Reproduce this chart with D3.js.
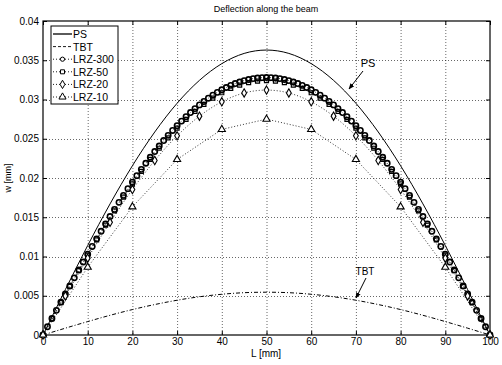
<!DOCTYPE html>
<html><head><meta charset="utf-8">
<script src="https://cdn.jsdelivr.net/npm/d3@7"></script>
<style>body{margin:0;background:#fff}svg{display:block}text{font-family:"Liberation Sans",Arial,sans-serif;fill:#000}</style>
</head><body><svg id="c" width="502" height="365"></svg>
<script>
const titleText = "Deflection along the beam";
const xLabel = "L [mm]";
const yLabel = "w [mm]";
const xTicks = [0,10,20,30,40,50,60,70,80,90,100];
const xTickLabels = ["0","10","20","30","40","50","60","70","80","90","100"];
const yTicks = [0,0.005,0.01,0.015,0.02,0.025,0.03,0.035,0.04];
const yTickLabels = ["0","0.005","0.01","0.015","0.02","0.025","0.03","0.035","0.04"];
const seriesNames = ["PS","TBT","LRZ-300","LRZ-50","LRZ-20","LRZ-10"];

const xStep5 = [0,5,10,15,20,25,30,35,40,45,50,55,60,65,70,75,80,85,90,95,100];
const wPS = [0,0.00578,0.01140,0.01670,0.02156,0.02586,0.02952,0.03244,0.03457,0.03587,0.03630,0.03587,0.03457,0.03244,0.02952,0.02586,0.02156,0.01670,0.01140,0.00578,0];
const wTBT = [0,0.00087,0.00171,0.00251,0.00324,0.00388,0.00443,0.00487,0.00519,0.00539,0.00545,0.00539,0.00519,0.00487,0.00443,0.00388,0.00324,0.00251,0.00171,0.00087,0];
const xLRZ300 = d3.range(0,101,1);
const wLRZ300 = [0,0.00105,0.00210,0.00314,0.00419,0.00522,0.00625,0.00728,0.00829,0.00930,0.01030,0.01128,0.01225,0.01321,0.01416,0.01509,0.01600,0.01690,0.01778,0.01864,0.01948,0.02030,0.02110,0.02188,0.02264,0.02337,0.02408,0.02477,0.02543,0.02606,0.02667,0.02725,0.02781,0.02834,0.02884,0.02931,0.02975,0.03017,0.03055,0.03091,0.03124,0.03153,0.03180,0.03203,0.03223,0.03241,0.03255,0.03266,0.03274,0.03278,0.03280,0.03278,0.03274,0.03266,0.03255,0.03241,0.03223,0.03203,0.03180,0.03153,0.03124,0.03091,0.03055,0.03017,0.02975,0.02931,0.02884,0.02834,0.02781,0.02725,0.02667,0.02606,0.02543,0.02477,0.02408,0.02337,0.02264,0.02188,0.02110,0.02030,0.01948,0.01864,0.01778,0.01690,0.01600,0.01509,0.01416,0.01321,0.01225,0.01128,0.01030,0.00930,0.00829,0.00728,0.00625,0.00522,0.00419,0.00314,0.00210,0.00105,0];
const xLRZ50 = d3.range(0,101,2);
const wLRZ50 = [0,0.00207,0.00413,0.00618,0.00819,0.01017,0.01211,0.01399,0.01581,0.01756,0.01924,0.02084,0.02236,0.02379,0.02512,0.02635,0.02747,0.02849,0.02939,0.03018,0.03086,0.03141,0.03184,0.03215,0.03234,0.03240,0.03234,0.03215,0.03184,0.03141,0.03086,0.03018,0.02939,0.02849,0.02747,0.02635,0.02512,0.02379,0.02236,0.02084,0.01924,0.01756,0.01581,0.01399,0.01211,0.01017,0.00819,0.00618,0.00413,0.00207,0];
const wLRZ20 = [0,0.00497,0.00979,0.01435,0.01853,0.02223,0.02537,0.02788,0.02971,0.03083,0.03120,0.03083,0.02971,0.02788,0.02537,0.02223,0.01853,0.01435,0.00979,0.00497,0];
const xStep10 = [0,10,20,30,40,50,60,70,80,90,100];
const wLRZ10 = [0,0.00863,0.01633,0.02236,0.02619,0.02750,0.02619,0.02236,0.01633,0.00863,0];

const svg = d3.select("#c");
const L = 43, R = 490, T = 21, B = 335;
const x = d3.scaleLinear().domain([0,100]).range([L,R]);
const y = d3.scaleLinear().domain([0,0.04]).range([B,T]);

// grid
const grid = svg.append("g").attr("stroke","#000").attr("stroke-width",0.6).attr("stroke-dasharray","1,2");
grid.selectAll(".gx").data(xTicks.slice(1,-1)).enter().append("line")
  .attr("x1",d=>x(d)+0.5).attr("x2",d=>x(d)+0.5).attr("y1",T).attr("y2",B);
grid.selectAll(".gy").data(yTicks.slice(1,-1)).enter().append("line")
  .attr("y1",d=>Math.round(y(d))+0.5).attr("y2",d=>Math.round(y(d))+0.5).attr("x1",L).attr("x2",R);

// axes
const fontSize = "10px";
const ax = svg.append("g").attr("transform",`translate(0,${B})`)
  .call(d3.axisBottom(x).tickValues(xTicks).tickFormat((d,i)=>xTickLabels[i]).tickSizeInner(-4).tickSizeOuter(0).tickPadding(3));
const axT = svg.append("g").attr("transform",`translate(0,${T})`)
  .call(d3.axisTop(x).tickValues(xTicks).tickFormat("").tickSizeInner(-4).tickSizeOuter(0));
const ay = svg.append("g").attr("transform",`translate(${L},0)`)
  .call(d3.axisLeft(y).tickValues(yTicks).tickFormat((d,i)=>yTickLabels[i]).tickSizeInner(-4).tickSizeOuter(0).tickPadding(4));
const ayR = svg.append("g").attr("transform",`translate(${R},0)`)
  .call(d3.axisRight(y).tickValues(yTicks).tickFormat("").tickSizeInner(-4).tickSizeOuter(0));
[ax,axT,ay,ayR].forEach(g=>{
  g.selectAll("path").remove();
  g.selectAll("line").attr("stroke","#000").attr("stroke-width",1);
  g.selectAll("text").attr("font-size",fontSize).attr("font-family","Liberation Sans, Arial, sans-serif").attr("fill","#000");
});
svg.append("rect").attr("x",L).attr("y",T).attr("width",R-L).attr("height",B-T)
  .attr("fill","none").attr("stroke","#000").attr("stroke-width",1.2);

// lines
const lin = d3.line().x(d=>x(d[0])).y(d=>y(d[1]));
const smooth = d3.line().x(d=>x(d[0])).y(d=>y(d[1])).curve(d3.curveNatural);
const pts = (xs,ws)=>xs.map((v,i)=>[v,ws[i]]);
const plot = svg.append("g");
function addPath(gen,data,w,dash){
  plot.append("path").attr("d",gen(data)).attr("fill","none").attr("stroke","#000")
    .attr("stroke-width",w).attr("stroke-dasharray",dash);
}
addPath(smooth,pts(xStep5,wTBT),1,"4,2,1,2");
addPath(lin,pts(xStep10,wLRZ10),0.8,"1,2");
addPath(smooth,pts(xStep5,wLRZ20),0.8,"1,2");
addPath(lin,pts(xLRZ50,wLRZ50),0.8,"1,2");
addPath(lin,pts(xLRZ300,wLRZ300),0.8,"1,2");
addPath(smooth,pts(xStep5,wPS),1,null);

// markers
const sym = {
  "LRZ-300": d3.symbol().type(d3.symbolCircle).size(22),
  "LRZ-50": d3.symbol().type(d3.symbolSquare).size(16),
  "LRZ-20": d3.symbol().type(d3.symbolDiamond).size(20),
  "LRZ-10": d3.symbol().type(d3.symbolTriangle).size(22)
};
function markers(name,xs,ws,fill,sw){
  plot.append("g").selectAll("path").data(pts(xs,ws)).enter().append("path")
    .attr("d",sym[name]()).attr("transform",d=>`translate(${x(d[0])},${y(d[1])})`)
    .attr("fill",fill).attr("stroke","#000").attr("stroke-width",sw);
}
markers("LRZ-300",xLRZ300,wLRZ300,"none",1.6);
markers("LRZ-50",xLRZ50,wLRZ50,"none",1.2);
markers("LRZ-20",xStep5,wLRZ20,"#fff",1.1);
markers("LRZ-10",xStep10,wLRZ10,"#fff",1.1);

// annotations
svg.append("defs").append("marker").attr("id","ah").attr("viewBox","0 0 10 10").attr("refX",9).attr("refY",5)
  .attr("markerWidth",6).attr("markerHeight",6).attr("orient","auto")
  .append("path").attr("d","M0,1L10,5L0,9Z").attr("fill","#000");
svg.append("text").attr("x",368).attr("y",67).attr("text-anchor","middle").attr("font-size","11px").text("PS");
svg.append("line").attr("x1",363).attr("y1",71).attr("x2",349).attr("y2",89).attr("stroke","#000").attr("stroke-width",1).attr("marker-end","url(#ah)");
svg.append("text").attr("x",365).attr("y",275).attr("text-anchor","middle").attr("font-size","10px").text("TBT");
svg.append("line").attr("x1",366).attr("y1",278).attr("x2",356).attr("y2",298).attr("stroke","#000").attr("stroke-width",1).attr("marker-end","url(#ah)");

// titles
svg.append("text").attr("x",266).attr("y",12).attr("text-anchor","middle").attr("font-size","9px").text(titleText);
svg.append("text").attr("x",266).attr("y",357).attr("text-anchor","middle").attr("font-size","10px").text(xLabel);
svg.append("text").attr("transform","translate(11,178) rotate(-90)").attr("text-anchor","middle").attr("font-size","9px").text(yLabel);

// legend
const lg = svg.append("g");
lg.append("rect").attr("x",51).attr("y",26).attr("width",67).attr("height",78).attr("fill","#fff").attr("stroke","#000").attr("stroke-width",1);
const rowY = d3.scalePoint().domain(seriesNames).range([34,97]);
const dash = {"PS":null,"TBT":"3,2","LRZ-300":"1,2","LRZ-50":"1,2","LRZ-20":"1,2","LRZ-10":"1,2"};
const legSym = {
  "LRZ-300": d3.symbol().type(d3.symbolCircle).size(14),
  "LRZ-50": d3.symbol().type(d3.symbolSquare).size(16),
  "LRZ-20": d3.symbol().type(d3.symbolDiamond).size(20),
  "LRZ-10": d3.symbol().type(d3.symbolTriangle).size(22)
};
seriesNames.forEach(n=>{
  const yy = rowY(n);
  lg.append("line").attr("x1",53).attr("x2",72).attr("y1",yy).attr("y2",yy).attr("stroke","#000")
    .attr("stroke-width",n==="PS"?1.3:0.9).attr("stroke-dasharray",dash[n]);
  if(legSym[n]) lg.append("path").attr("d",legSym[n]()).attr("transform",`translate(62.5,${yy})`).attr("fill","#fff").attr("stroke","#000").attr("stroke-width",1);
  lg.append("text").attr("x",73).attr("y",yy+4).attr("font-size","10.5px").text(n);
});
</script></body></html>
